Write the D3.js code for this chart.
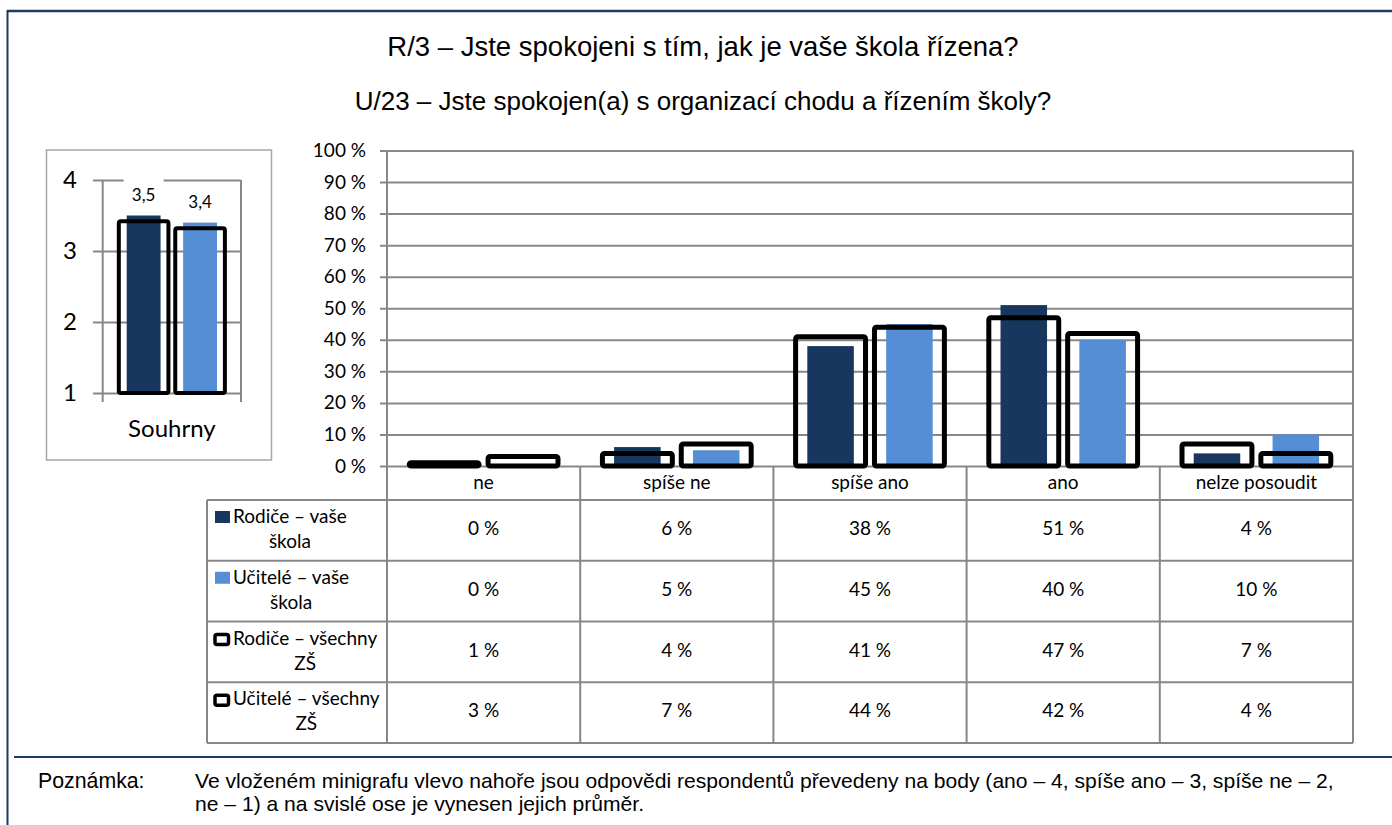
<!DOCTYPE html>
<html>
<head>
<meta charset="utf-8">
<script src="https://cdn.jsdelivr.net/npm/d3@7"></script>
<style>
  body { margin: 0; background: #fff; }
  svg { display: block; }
</style>
</head>
<body>
<svg id="chart" width="1392" height="825"></svg>
<script>
// ---- data ----
const titleLines = [
  "R/3 – Jste spokojeni s tím, jak je vaše škola řízena?",
  "U/23 – Jste spokojen(a) s organizací chodu a řízením školy?"
];
const categories = ["ne", "spíše ne", "spíše ano", "ano", "nelze posoudit"];
const seriesNames = ["Rodiče – vaše škola", "Učitelé – vaše škola", "Rodiče – všechny ZŠ", "Učitelé – všechny ZŠ"];
const rodiceSkola    = [0, 6, 38, 51, 4];
const uciteleSkola   = [0, 5, 45, 40, 10];
const rodiceVsechny  = [1, 4, 41, 47, 7];
const uciteleVsechny = [3, 7, 44, 42, 4];
const percentTicks = [0, 10, 20, 30, 40, 50, 60, 70, 80, 90, 100];

// mean scores (ano 4 … ne 1)
const summaryCategory = ["Souhrny"];
const summarySkola    = [3.5, 3.4];   // rodiče, učitelé – vaše škola
const summaryVsechny  = [3.42, 3.32]; // rodiče, učitelé – všechny ZŠ
const summaryTicks = [1, 2, 3, 4];

const noteLabel = "Poznámka:";
const noteLines = [
  "Ve vloženém minigrafu vlevo nahoře jsou odpovědi respondentů převedeny na body (ano – 4, spíše ano – 3, spíše ne – 2,",
  "ne – 1) a na svislé ose je vynesen jejich průměr."
];

// ---- styles ----
const NAVY = "#17375E", SKY = "#558ED5", GRID = "#878787", FRAME = "#1F3B63";
const BODY = "Lato, 'Open Sans', sans-serif";
const ARIAL = "'Liberation Sans', Arial, sans-serif";
const fmtPct = d => d + " %";
const fmtDec = d => d3.format(".1f")(d).replace(".", ",");

const svg = d3.select("#chart");

// ---- page frame ----
svg.append("line").attr("x1", 7).attr("x2", 1392).attr("y1", 11).attr("y2", 11)
  .attr("stroke", FRAME).attr("stroke-width", 2.5);
svg.append("line").attr("x1", 7.5).attr("x2", 7.5).attr("y1", 10).attr("y2", 825)
  .attr("stroke", FRAME).attr("stroke-width", 2);
svg.append("line").attr("x1", 14).attr("x2", 1392).attr("y1", 757).attr("y2", 757)
  .attr("stroke", FRAME).attr("stroke-width", 2);

// ---- titles ----
const titleSizes = [27.5, 26];
svg.selectAll("text.title").data(titleLines).join("text")
  .attr("class", "title")
  .attr("x", 703).attr("y", (d, i) => 56 + i * 54)
  .attr("text-anchor", "middle")
  .style("font-family", ARIAL).style("font-size", (d, i) => titleSizes[i] + "px").attr("fill", "#000")
  .text(d => d);

// ---- main chart ----
const plot = { left: 387, right: 1353, top: 150.5, bottom: 466, tableBottom: 743 };
const x = d3.scaleBand().domain(categories).range([plot.left, plot.right]);
const y = d3.scaleLinear().domain([0, 100]).range([plot.bottom, plot.top]);
const sub = d3.scaleBand().domain([0, 1]).range([0, x.bandwidth()])
  .paddingInner(0.05).paddingOuter(0.25);

const yAxis = d3.axisLeft(y).tickValues(percentTicks).tickFormat(fmtPct)
  .tickSize(-(plot.right - 380)).tickPadding(14);
const gy = svg.append("g").attr("transform", "translate(380,0)").call(yAxis);
gy.select(".domain").remove();
gy.selectAll(".tick line").attr("stroke", GRID).attr("stroke-width", 2);
gy.selectAll(".tick text").style("font-family", BODY).style("font-size", "19px").attr("fill", "#000");

// filled bars: this school
const fillSeries = [
  { values: rodiceSkola, color: NAVY },
  { values: uciteleSkola, color: SKY }
];
const fillW = sub.step() * 0.59;
fillSeries.forEach((s, si) => {
  svg.append("g").selectAll("rect").data(categories).join("rect")
    .attr("x", c => x(c) + sub(si) + sub.bandwidth() / 2 - fillW / 2)
    .attr("width", fillW)
    .attr("y", (c, i) => y(s.values[i]))
    .attr("height", (c, i) => y(0) - y(s.values[i]))
    .attr("fill", s.color);
});

// outlined bars: all schools
const outlineSeries = [rodiceVsechny, uciteleVsechny];
const OSW = 5;
outlineSeries.forEach((vals, si) => {
  svg.append("g").selectAll("rect").data(categories).join("rect")
    .attr("x", c => x(c) + sub(si) + OSW / 2)
    .attr("width", sub.bandwidth() - OSW)
    .attr("y", (c, i) => y(vals[i]))
    .attr("height", (c, i) => y(0) - y(vals[i]))
    .attr("rx", 2)
    .attr("fill", "none").attr("stroke", "#000").attr("stroke-width", OSW)
    .attr("stroke-linejoin", "round");
});

// ---- data table ----
const tableLeft = 207, headerBottom = 500;
const rowY = d3.scaleBand().domain(seriesNames).range([headerBottom, plot.tableBottom]);
const tbl = svg.append("g").attr("stroke", GRID).attr("stroke-width", 2);

// vertical rules
tbl.append("line").attr("x1", plot.left).attr("x2", plot.left).attr("y1", plot.top).attr("y2", plot.tableBottom);
tbl.append("line").attr("x1", plot.right).attr("x2", plot.right).attr("y1", plot.top).attr("y2", plot.tableBottom);
tbl.selectAll("line.cat").data(categories.slice(1)).join("line").attr("class", "cat")
  .attr("x1", c => x(c)).attr("x2", c => x(c))
  .attr("y1", plot.bottom).attr("y2", plot.tableBottom);
tbl.append("line").attr("x1", tableLeft).attr("x2", tableLeft).attr("y1", headerBottom).attr("y2", plot.tableBottom);
// horizontal rules
const rowEdges = seriesNames.map(n => rowY(n)).concat([plot.tableBottom]);
tbl.selectAll("line.row").data(rowEdges).join("line").attr("class", "row")
  .attr("x1", tableLeft).attr("x2", plot.right)
  .attr("y1", d => d).attr("y2", d => d);

// header labels
svg.append("g").selectAll("text").data(categories).join("text")
  .attr("x", c => x(c) + x.bandwidth() / 2).attr("y", 489)
  .attr("text-anchor", "middle")
  .style("font-family", BODY).style("font-size", "19px").attr("fill", "#000")
  .text(c => c);

// value cells
const allSeries = [rodiceSkola, uciteleSkola, rodiceVsechny, uciteleVsechny];
allSeries.forEach((vals, si) => {
  svg.append("g").selectAll("text").data(categories).join("text")
    .attr("x", c => x(c) + x.bandwidth() / 2)
    .attr("y", rowY(seriesNames[si]) + 35)
    .attr("text-anchor", "middle")
    .style("font-family", BODY).style("font-size", "19px").attr("fill", "#000")
    .text((c, i) => fmtPct(vals[i]));
});

// legend keys + names
seriesNames.forEach((name, si) => {
  const top = rowY(name);
  if (si < 2) {
    svg.append("rect").attr("x", 215).attr("y", top + 11).attr("width", 15).attr("height", 12)
      .attr("fill", si === 0 ? NAVY : SKY);
  } else {
    svg.append("rect").attr("x", 215).attr("y", top + 13).attr("width", 13.5).attr("height", 10)
      .attr("rx", 2).attr("fill", "#fff").attr("stroke", "#000").attr("stroke-width", 3.5);
  }
  const cut = name.lastIndexOf(" ");
  const l1 = name.slice(0, cut), l2 = name.slice(cut + 1);
  const t1 = svg.append("text").attr("x", 233).attr("y", top + 23)
    .style("font-family", BODY).style("font-size", "19px").attr("fill", "#000").text(l1);
  const w1 = t1.node().getComputedTextLength();
  svg.append("text").attr("x", 233 + w1 / 2).attr("y", top + 48).attr("text-anchor", "middle")
    .style("font-family", BODY).style("font-size", "19px").attr("fill", "#000").text(l2);
});

// ---- summary mini chart ----
svg.append("rect").attr("x", 46.5).attr("y", 150).attr("width", 225).attr("height", 310)
  .attr("fill", "#fff").attr("stroke", "#a6a6a6").attr("stroke-width", 1.5);

const mini = { left: 102.7, right: 241, top: 180, bottom: 393 };
const mx = d3.scaleBand().domain(summaryCategory).range([mini.left, mini.right]);
const my = d3.scaleLinear().domain([1, 4]).range([mini.bottom, mini.top]);
const msub = d3.scaleBand().domain([0, 1]).range([0, mx.bandwidth()])
  .paddingInner(0.05).paddingOuter(0.25);

const myAxis = d3.axisLeft(my).tickValues(summaryTicks).tickFormat(d => d)
  .tickSize(-(mini.right - 93)).tickPadding(16);
const gmy = svg.append("g").attr("transform", "translate(93,0)").call(myAxis);
gmy.select(".domain").remove();
gmy.selectAll(".tick line").attr("stroke", GRID).attr("stroke-width", 2);
gmy.selectAll(".tick text").style("font-family", BODY).style("font-size", "24px").attr("fill", "#000");

[mini.left, mini.right].forEach(xx => {
  svg.append("line").attr("x1", xx).attr("x2", xx).attr("y1", mini.top).attr("y2", mini.bottom + 9)
    .attr("stroke", GRID).attr("stroke-width", 2);
});

const mFillW = msub.step() * 0.6;
const mc = summaryCategory[0];
const mFills = svg.append("g");
summarySkola.forEach((v, si) => {
  mFills.append("rect")
    .attr("x", mx(mc) + msub(si) + msub.bandwidth() / 2 - mFillW / 2)
    .attr("width", mFillW)
    .attr("y", my(v)).attr("height", my(1) - my(v))
    .attr("fill", si === 0 ? NAVY : SKY);
});
// value labels (white backing box like a data label)
summarySkola.forEach((v, si) => {
  const cx = mx(mc) + msub(si) + msub.bandwidth() / 2;
  const by = my(v) - 15;
  svg.append("rect").attr("x", cx - 20).attr("y", by - 24).attr("width", 40).attr("height", 30).attr("fill", "#fff");
  svg.append("text").attr("x", cx).attr("y", by).attr("text-anchor", "middle")
    .style("font-family", BODY).style("font-size", "17px").attr("fill", "#000")
    .text(fmtDec(v));
});
const MSW = 4;
summaryVsechny.forEach((v, si) => {
  svg.append("rect")
    .attr("x", mx(mc) + msub(si) + MSW / 2)
    .attr("width", msub.bandwidth() - MSW)
    .attr("y", my(v)).attr("height", my(1) - my(v))
    .attr("rx", 2)
    .attr("fill", "none").attr("stroke", "#000").attr("stroke-width", MSW)
    .attr("stroke-linejoin", "round");
});
svg.append("text").attr("x", mx(mc) + mx.bandwidth() / 2).attr("y", 437)
  .attr("text-anchor", "middle")
  .style("font-family", BODY).style("font-size", "24px").attr("fill", "#000")
  .text(mc);

// ---- note ----
svg.append("text").attr("x", 38).attr("y", 788)
  .style("font-family", ARIAL).style("font-size", "21.3px").attr("fill", "#000").text(noteLabel);
svg.selectAll("text.note").data(noteLines).join("text").attr("class", "note")
  .attr("x", 195).attr("y", (d, i) => 788 + i * 23)
  .style("font-family", ARIAL).style("font-size", "21.1px").attr("fill", "#000")
  .text(d => d);
</script>
</body>
</html>
